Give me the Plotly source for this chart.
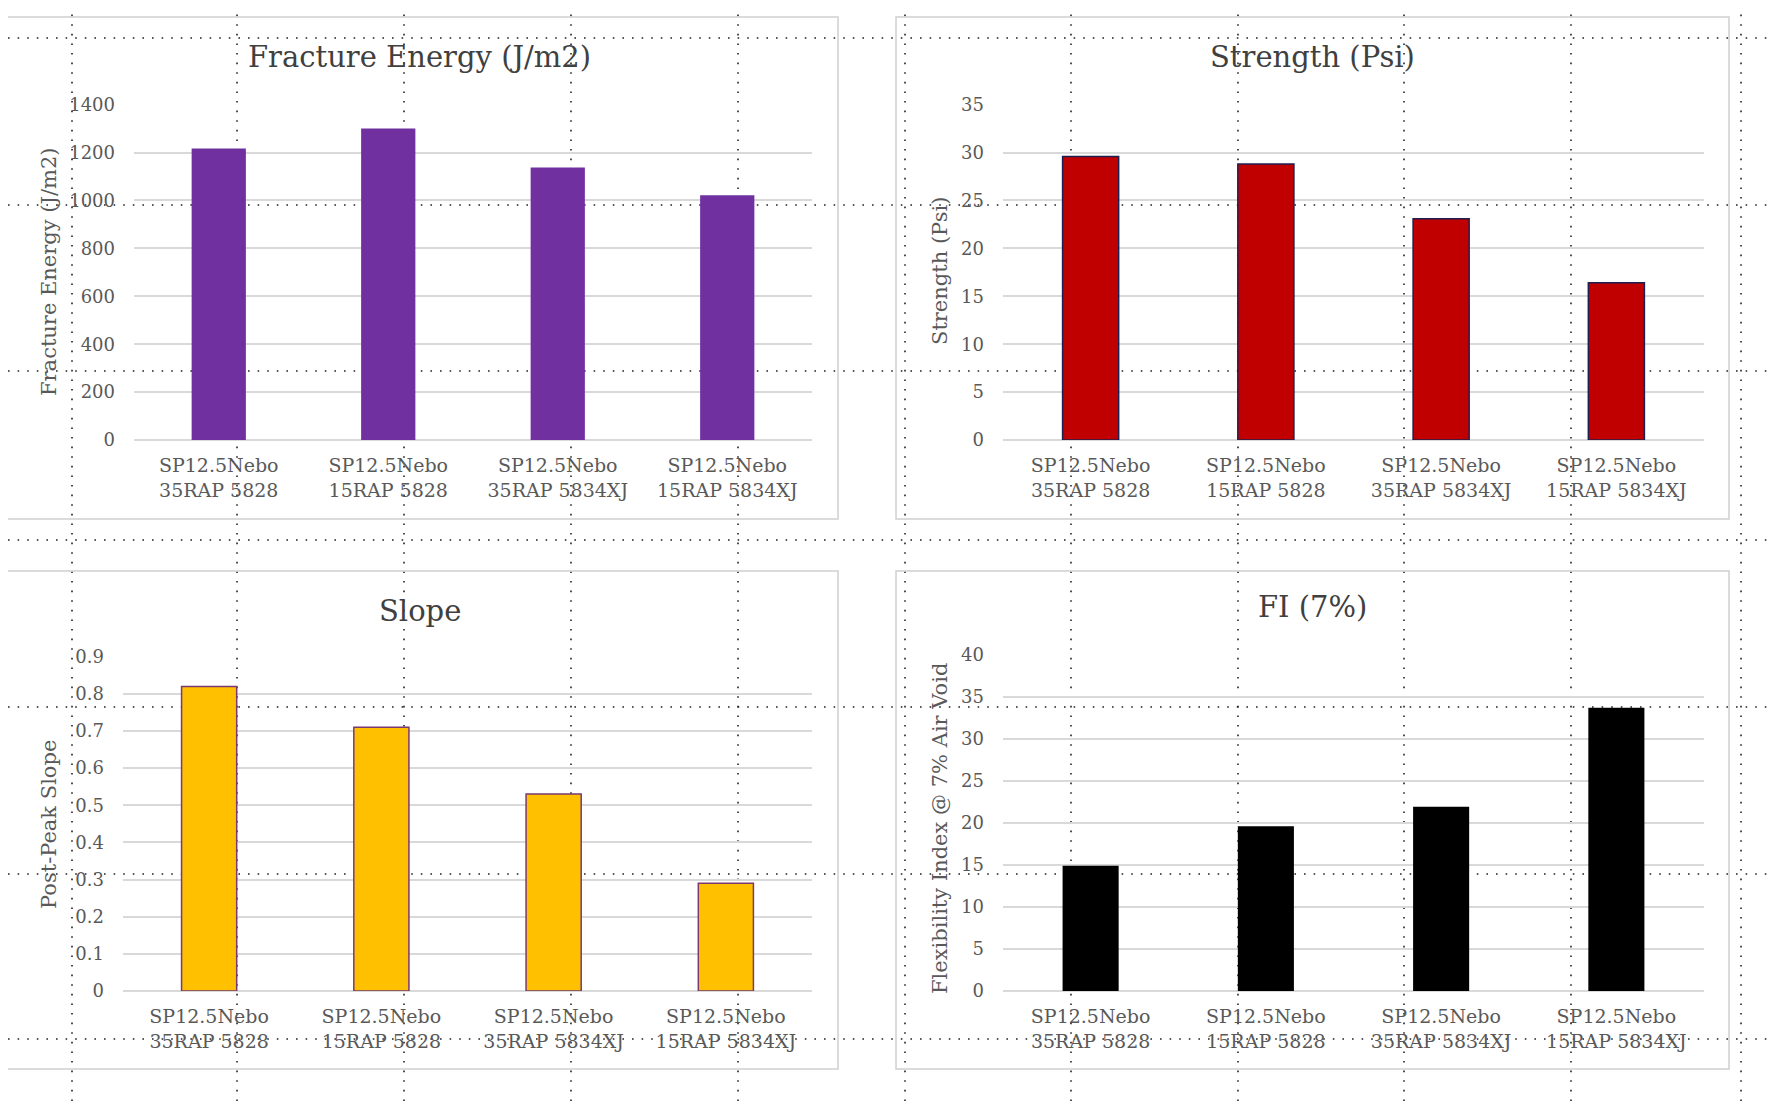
import plotly.graph_objects as go

# ---------------- data ----------------
categories = ["SP12.5Nebo<br>35RAP 5828", "SP12.5Nebo<br>15RAP 5828",
              "SP12.5Nebo<br>35RAP 5834XJ", "SP12.5Nebo<br>15RAP 5834XJ"]
fracture_energy = [1217, 1300, 1138, 1022]
strength = [29.6, 28.8, 23.1, 16.4]
slope = [0.82, 0.71, 0.53, 0.29]
flex_index = [14.9, 19.6, 21.9, 33.7]

titles = ["Fracture Energy (J/m2)", "Strength (Psi)", "Slope", "FI (7%)"]
y_titles = ["Fracture Energy (J/m2)", "Strength (Psi)", "Post-Peak Slope",
            "Flexibility Index @ 7% Air Void"]
y_max = [1400, 35, 0.9, 40]
y_step = [200, 5, 0.1, 5]

# ---------------- geometry helpers (pixel -> paper) ----------------
W, H, OFF = 1759, 1093, 8


def fx(x):
    return (x - OFF) / W


def fy(y):
    return 1 - (y - OFF) / H


FONT = "DejaVu Serif"
TXT = "#595959"
GRID = "#D9D9D9"

panels = [
    dict(color="#7030A0", line="#7030A0", lw=0,
         px=(134, 812), py=(440, 104),
         box=(6, 17, 838, 519), tpos=(419, 57), ytpos=(49, 272)),
    dict(color="#C00000", line="#1F1F4F", lw=1.5,
         px=(1003, 1704), py=(440, 104),
         box=(896, 17, 1729, 519), tpos=(1312, 57), ytpos=(940, 271)),
    dict(color="#FFC000", line="#7A3A70", lw=1.5,
         px=(123, 812), py=(991, 656),
         box=(6, 571, 838, 1069), tpos=(420, 611), ytpos=(49, 825)),
    dict(color="#000000", line="#000000", lw=0,
         px=(1003, 1704), py=(991, 654),
         box=(896, 571, 1729, 1069), tpos=(1312, 607), ytpos=(940, 829)),
]
series = [fracture_energy, strength, slope, flex_index]

fig = go.Figure()
shapes = []
annotations = []

# dotted document grid (drawn beneath the charts)
v_lines = [72, 237, 404, 571, 738, 905, 1071, 1238, 1404, 1571, 1741]
h_lines = [38, 205, 371, 540, 707, 874, 1039]
for xv in v_lines:
    shapes.append(dict(type="line", xref="paper", yref="paper", x0=fx(xv), x1=fx(xv),
                       y0=0, y1=1, layer="below",
                       line=dict(color="#222222", width=1.6, dash="1.6px,8px")))
for yh in h_lines:
    shapes.append(dict(type="line", xref="paper", yref="paper", x0=0, x1=1,
                       y0=fy(yh), y1=fy(yh), layer="below",
                       line=dict(color="#222222", width=1.6, dash="1.6px,8px")))

for i, p in enumerate(panels):
    n = "" if i == 0 else str(i + 1)
    fig.add_trace(go.Bar(
        x=categories, y=series[i], xaxis="x" + n, yaxis="y" + n,
        marker=dict(color=p["color"], line=dict(color=p["line"], width=p["lw"])),
        showlegend=False,
    ))
    fig.layout["xaxis" + n] = dict(
        domain=[fx(p["px"][0]), fx(p["px"][1])], anchor="y" + n,
        showgrid=False, showline=False, zeroline=False, ticks="",
        tickfont=dict(family=FONT, size=19, color=TXT), ticklabelstandoff=12,
        fixedrange=True,
    )
    fig.layout["yaxis" + n] = dict(
        domain=[fy(p["py"][0]), fy(p["py"][1])], anchor="x" + n,
        range=[0, y_max[i] * 1.002], dtick=y_step[i],
        showgrid=True, gridcolor=GRID, gridwidth=2,
        zeroline=True, zerolinecolor=GRID, zerolinewidth=2, showline=False, ticks="",
        tickfont=dict(family=FONT, size=18, color=TXT), ticklabelstandoff=18,
        fixedrange=True,
    )
    x0, y0, x1, y1 = p["box"]
    shapes.append(dict(type="rect", xref="paper", yref="paper",
                       x0=fx(x0), x1=fx(x1), y0=fy(y1), y1=fy(y0),
                       line=dict(color="#D0D0D0", width=1.5), layer="below"))
    annotations.append(dict(text=titles[i], xref="paper", yref="paper",
                            x=fx(p["tpos"][0]), y=fy(p["tpos"][1]),
                            xanchor="center", yanchor="middle", showarrow=False,
                            font=dict(family=FONT, size=29, color="#404040")))
    annotations.append(dict(text=y_titles[i], xref="paper", yref="paper",
                            x=fx(p["ytpos"][0]), y=fy(p["ytpos"][1]),
                            xanchor="center", yanchor="middle", showarrow=False,
                            textangle=-90,
                            font=dict(family=FONT, size=21, color=TXT)))

fig.update_layout(
    width=W, height=H, margin=dict(l=0, r=0, t=0, b=0, autoexpand=False),
    paper_bgcolor="white", plot_bgcolor="rgba(0,0,0,0)",
    bargap=0.68, shapes=shapes, annotations=annotations,
    font=dict(family=FONT, color=TXT),
)

fig.write_html("out.html")
